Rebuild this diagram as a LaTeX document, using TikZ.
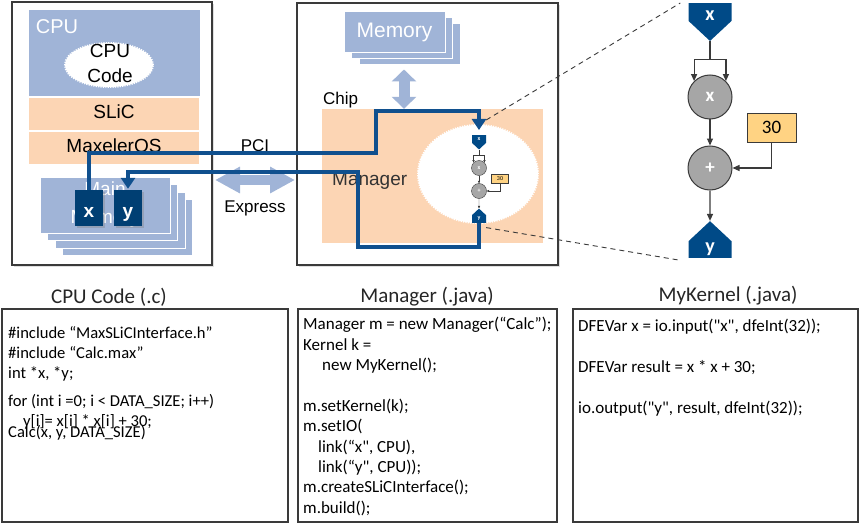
\documentclass[tikz,border=0pt]{standalone}
\usepackage{fontspec}
\setmainfont{Liberation Sans}
\newfontfamily\codefont[Ligatures=TeXOff]{Carlito}
\usetikzlibrary{arrows.meta,shapes.geometric,shapes.symbols,shadows}
\definecolor{memblue}{HTML}{A0B4D7}
\definecolor{peach}{HTML}{FCD5B4}
\definecolor{linkblue}{HTML}{10508E}
\definecolor{iodark}{HTML}{004A87}
\definecolor{boxgrey}{HTML}{3A3A3A}
\definecolor{opgrey}{HTML}{A6A6A6}
\definecolor{constorange}{HTML}{FFD383}
\begin{document}
\begin{tikzpicture}[x=1pt,y=-1pt,
    hostframe/.style={draw=boxgrey,line width=2pt,fill=white,inner sep=0pt,
      drop shadow={opacity=0.25,shadow xshift=2pt,shadow yshift=-2pt}},
    memlayer/.style={draw=white,line width=1pt,fill=memblue,inner sep=0pt},
    swband/.style={draw=white,line width=1.5pt,fill=peach,minimum width=172pt,
      minimum height=34pt,text depth=4pt,font=\fontsize{19}{23}\selectfont},
    varbox/.style={fill=iodark!85!black,minimum width=28pt,minimum height=36pt,
      text height=18pt,text depth=0pt,
      text=white,font=\fontsize{19}{23}\selectfont\bfseries,
      drop shadow={opacity=0.35,shadow xshift=1.5pt,shadow yshift=-1.5pt}},
    datalink/.style={draw=linkblue,line width=4.5pt,-{Triangle[width=14pt,length=11pt]}},
    pcibus/.style={draw=memblue,line width=10pt},
    iosignal/.style={signal,fill=iodark,signal pointer angle=94,inner sep=0pt,
      text=white,font=\codefont\fontsize{20}{24}\selectfont\bfseries},
    opnode/.style={circle,fill=opgrey,draw=boxgrey,line width=1pt,minimum size=44pt,
      inner sep=0pt,text=white,font=\codefont\fontsize{19}{23}\selectfont\bfseries},
    constbox/.style={fill=constorange,draw=boxgrey,line width=0.8pt,minimum width=49pt,
      minimum height=29pt,inner sep=0pt,font=\codefont\fontsize{19}{23}\selectfont},
    kedge/.style={draw=boxgrey,line width=1.2pt,-{Triangle[width=6pt,length=7pt]}},
    skedge/.style={draw=boxgrey,line width=0.4pt,-{Triangle[width=2.2pt,length=2.4pt]}},
    zoomline/.style={draw=boxgrey,line width=0.9pt,dash pattern=on 5pt off 4pt},
    codebox/.style={draw=boxgrey,line width=2pt,minimum height=213pt,inner sep=0pt},
    codetext/.style={anchor=north west,inner sep=0pt,align=left,
      font=\codefont\fontsize{17}{20.4}\selectfont},
    heading/.style={font=\codefont\fontsize{21}{25}\selectfont,text=black!85}]
  \useasboundingbox (0,0) rectangle (861,524);

  % CPU side
  \node[hostframe,minimum width=200pt,minimum height=263pt] (cpu) at (112,133.5) {};
  \node[memlayer,minimum width=172pt,minimum height=87pt] (cpuarea) at (114,53.5) {};
  \node[text=white,font=\fontsize{20}{24}\selectfont] (cpulabel) at (57,27) {CPU};
  \node[ellipse,fill=white,draw=white,line width=2pt,dash pattern=on 1.2pt off 1.2pt,
    minimum width=88pt,minimum height=44pt,inner sep=0pt] (cpucode) at (109,65) {};
  \node[align=center,font=\fontsize{19}{25}\selectfont] (cpucodetext) at (110,63.5) {CPU\\Code};
  \node[swband] (slic) at (114,114) {SLiC};
  \node[swband] (maxos) at (114,148) {MaxelerOS};
  \foreach \i in {3,2,1}
    \node[memlayer,minimum width=130pt,minimum height=56pt] (main-\i) at (105+7.5*\i,205+7.5*\i) {};
  \node[memlayer,minimum width=130pt,minimum height=56pt,text=white,align=center,
    font=\fontsize{19}{28}\selectfont] (mainmem) at (105,205) {Main\\Memory};
  \node[varbox] (cx) at (89,208) {x};
  \node[varbox] (cy) at (128,208) {y};

  % chip side
  \node[hostframe,minimum width=261pt,minimum height=262pt] (chip) at (427.5,134) {};
  \foreach \i in {2,1}
    \node[memlayer,minimum width=101pt,minimum height=41pt] (mem-\i) at (394.5+7.5*\i,32.5+6*\i) {};
  \node[memlayer,minimum width=101pt,minimum height=41pt,text=white,
    font=\fontsize{21}{25}\selectfont] (mem) at (394.5,32.5) {Memory};
  \node[fill=peach,minimum width=221pt,minimum height=134pt,inner sep=0pt] (manager) at (432.5,176) {};
  \node[anchor=base west,inner sep=0pt,font=\fontsize{17}{20}\selectfont] (chiplabel) at (323,105) {Chip};
  \node[anchor=base west,inner sep=0pt,text=black!80,font=\fontsize{19}{23}\selectfont] (mgrlabel) at (332,185) {Manager};
  \node[ellipse,fill=white,draw=white,line width=2pt,dash pattern=on 1.2pt off 1.2pt,
    minimum width=120pt,minimum height=98pt,inner sep=0pt] (kernel) at (478,174) {};

  % small kernel
  \node[iosignal,signal to=south,minimum width=14pt,minimum height=9pt,anchor=north,
    font=\codefont\fontsize{6}{7}\selectfont\bfseries] (kx) at (479,135) {x};
  \node[opnode,minimum size=15pt,line width=0.4pt,font=\codefont\fontsize{6}{7}\selectfont\bfseries] (kmul) at (479,168) {x};
  \node[opnode,minimum size=15pt,line width=0.4pt,font=\codefont\fontsize{6}{7}\selectfont\bfseries] (kadd) at (479,191) {+};
  \node[constbox,minimum width=17pt,minimum height=9pt,line width=0.4pt,
    font=\codefont\fontsize{6}{7}\selectfont] (kc) at (500,179) {30};
  \node[iosignal,signal to=north,minimum width=14pt,minimum height=9pt,anchor=south,
    font=\codefont\fontsize{6}{7}\selectfont\bfseries] (ky) at (479,223) {y};
  \draw[skedge,-] (kx.south) -- ++(0,5) coordinate (ksplit);
  \draw[skedge] (ksplit) -| (kmul.135);
  \draw[skedge] (ksplit) -| (kmul.45);
  \draw[skedge] (kmul) -- (kadd);
  \draw[skedge] (kc.south) |- (kadd.east);
  \draw[skedge] (kadd) -- (ky);

  % big kernel
  \node[iosignal,signal to=south,minimum width=43pt,minimum height=22pt,text height=17pt,
    anchor=north] (bx) at (710,3) {x};
  \node[opnode] (bmul) at (710,97) {x};
  \node[opnode] (badd) at (710,168) {+};
  \node[constbox] (bc) at (771.5,127.5) {30};
  \node[iosignal,signal to=north,minimum width=43pt,minimum height=21pt,anchor=south] (by) at (710,258) {y};
  \draw[kedge,-] (bx.south) -- ++(0,18) coordinate (bsplit);
  \draw[kedge] (bsplit) -| (bmul.135);
  \draw[kedge] (bsplit) -| (bmul.45);
  \draw[kedge] (bmul) -- (badd);
  \draw[kedge] (bc.south) |- (badd.east);
  \draw[kedge] (badd) -- (by);
  \draw[zoomline] ([yshift=15pt]kx.north east) -- ([xshift=-8pt]bx.north west);
  \draw[zoomline] ([yshift=-5pt]ky.south east) -- ([xshift=-10pt,yshift=-2pt]by.south west);

  % buses and links
  \draw[pcibus,{Triangle[width=25pt,length=25pt]}-{Triangle[width=25pt,length=25pt]},
    shorten <=2pt,shorten >=1pt] (cpu.east |- 0,180) -- (chip.west |- 0,180);
  \node[font=\fontsize{17}{20}\selectfont] (pcilabel) at (255,146) {PCI};
  \node[font=\fontsize{17}{20}\selectfont] (expresslabel) at (255,208) {Express};
  \draw[pcibus,line width=11pt,{Triangle[width=24pt,length=12pt]}-{Triangle[width=24pt,length=12pt]},
    shorten <=4pt] (mem-2.south -| 404,0) -- (manager.north -| 404,0);
  \draw[datalink,shorten >=5pt] (cx.north) -- (cx.north |- 0,153) -- (376,153) -- (376,111)
    -- (kx.north |- 0,111) -- (kx.north);
  \draw[datalink,shorten >=1pt] (ky.south) -- (ky.south |- 0,247) -- (358,247) -- (358,172)
    -- (cy.north |- 0,172) -- (cy.north);

  % code
  \node[codebox,minimum width=286pt] (cbox) at (145,415.5) {};
  \node[heading] (ctitle) at (109,297) {CPU Code (.c)};
  \node[codetext,font=\codefont\fontsize{16.6}{20}\selectfont] (ctext) at (8,326)
    {\#include “MaxSLiCInterface.h”\\ \#include “Calc.max”\\ int *x, *y;\\[8pt]
     for (int i =0; i < DATA\_SIZE; i++)\\ \hspace*{15pt}y[i]= x[i] * x[i] + 30;\\[-9pt]
     Calc(x, y, DATA\_SIZE)};
  \node[codebox,minimum width=259pt] (mbox) at (427.5,415.5) {};
  \node[heading] (mtitle) at (427,297) {Manager (.java)};
  \node[codetext] (mtext) at (303,317)
    {Manager m = new Manager(“Calc”);\\ Kernel k =\\ \hspace*{19pt}new MyKernel();\\[20.4pt]
     m.setKernel(k);\\ m.setIO(\\ \hspace*{15pt}link(“x", CPU),\\ \hspace*{15pt}link(“y", CPU));\\
     m.createSLiCInterface();\\ m.build();};
  \node[codebox,minimum width=285pt] (kbox) at (715.5,415.5) {};
  \node[heading] (ktitle) at (728,296) {MyKernel (.java)};
  \node[codetext] (ktext) at (578,319)
    {DFEVar x = io.input("x", dfeInt(32));\\[20.4pt] DFEVar result = x * x + 30;\\[20.4pt]
     io.output("y", result, dfeInt(32));};
\end{tikzpicture}
\end{document}
